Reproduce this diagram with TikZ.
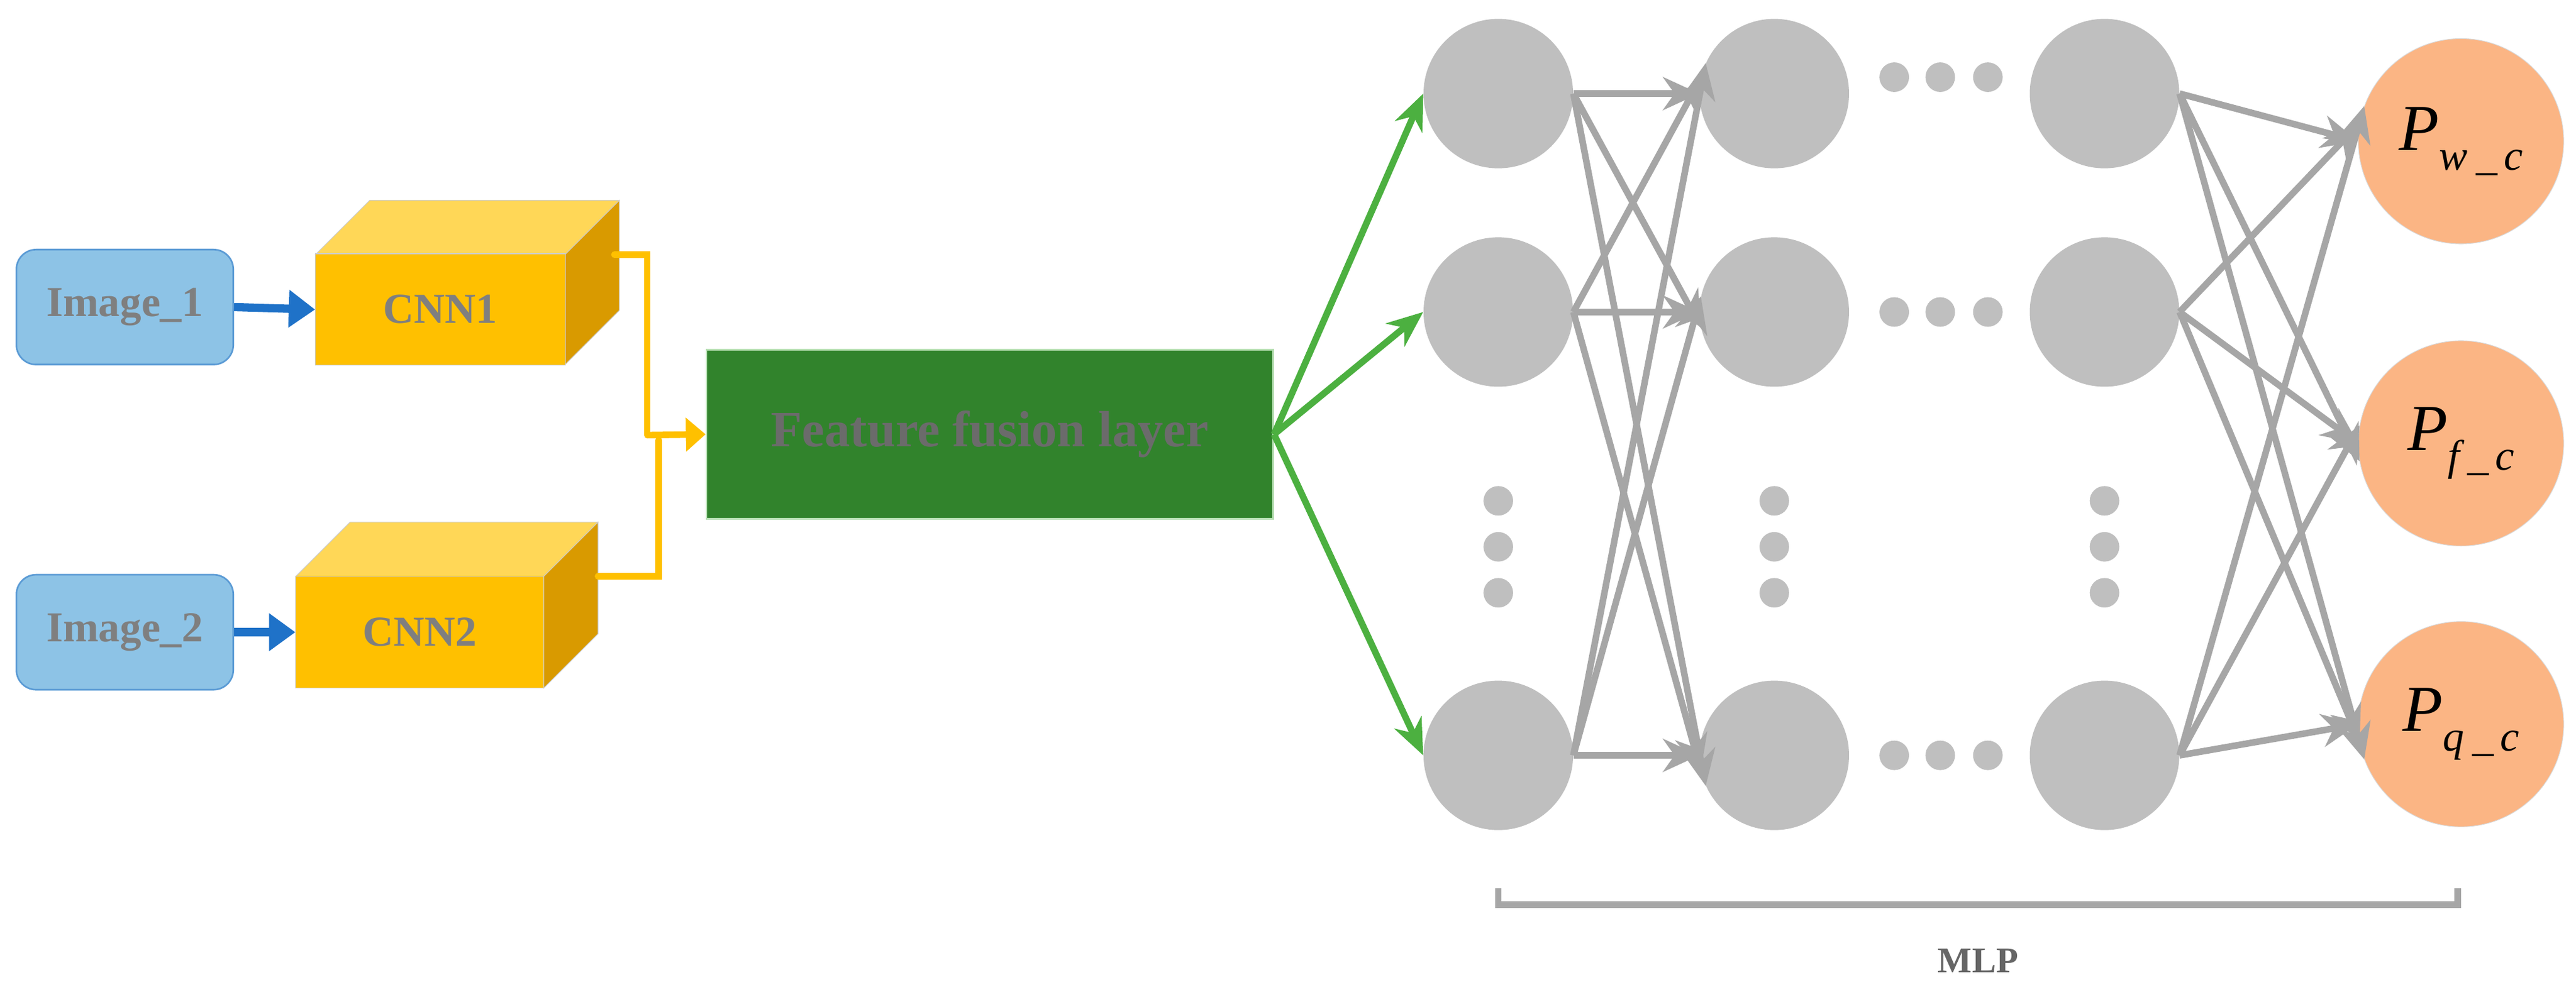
\documentclass[tikz,border=0pt]{standalone}
\usepackage{fontspec}
\setmainfont{Liberation Serif}
\usetikzlibrary{arrows.meta}
\definecolor{txt}{HTML}{7F7F7F}
\definecolor{imgf}{HTML}{8DC3E6}
\definecolor{imgd}{HTML}{5B9BD5}
\definecolor{cnnf}{HTML}{FFC000}
\definecolor{cnnt}{HTML}{FFD757}
\definecolor{cnns}{HTML}{D99A00}
\definecolor{fus}{HTML}{31832C}
\definecolor{grn}{HTML}{4CB040}
\definecolor{nodeg}{HTML}{BFBFBF}
\definecolor{arrg}{HTML}{A6A6A6}
\definecolor{outc}{HTML}{FBB584}
\definecolor{blu}{HTML}{1F72C8}
\newcommand{\plab}[1]{{\fontsize{40}{40}\selectfont\itshape P}\raisebox{-12pt}{\fontsize{26}{26}\selectfont\itshape #1\hspace{5pt}\_\hspace{4pt}c}}
\begin{document}
\begin{tikzpicture}[x=1pt,y=-1pt,
 img/.style={draw=imgd,fill=imgf,rounded corners=12pt,minimum width=132pt,minimum height=70pt,line width=1pt,
   font=\fontsize{26}{26}\selectfont\bfseries,text=txt},
 cnn/.style={fill=cnnf,draw=black!20,minimum width=152pt,minimum height=68pt,font=\fontsize{26}{26}\selectfont\bfseries,text=txt},
 neur/.style={circle,fill=nodeg,minimum size=91pt,inner sep=0pt},
 outn/.style={circle,fill=outc,draw=black!15,minimum size=125pt,inner sep=0pt},
 dot/.style={circle,fill=nodeg,minimum size=18pt,inner sep=0pt},
 ga/.style={draw=arrg,line width=4pt,-{Stealth[length=22pt,width=20pt,inset=7pt]}},
 gra/.style={draw=grn,line width=4pt,-{Stealth[length=22pt,width=18pt,inset=7pt]}},
 ya/.style={draw=cnnf,line width=4pt,line cap=round},
 ba/.style={draw=blu,line width=5pt,-{Triangle[length=16pt,width=22pt]}}]
\useasboundingbox (0,0) rectangle (1568,604);
% images
\node[img] (i1) at (76,187) {Image\_1};
\node[img] (i2) at (76,385) {Image\_2};
% CNN boxes
\fill[cnnt,draw=black!20] (192,155) -- (225,122) -- (377,122) -- (344,155) -- cycle;
\fill[cnns,draw=black!20] (344,155) -- (377,122) -- (377,189) -- (344,222) -- cycle;
\node[cnn] (c1) at (268,188.5) {CNN1};
\fill[cnnt,draw=black!20] (180,351) -- (213,318) -- (364,318) -- (331,351) -- cycle;
\fill[cnns,draw=black!20] (331,351) -- (364,318) -- (364,386) -- (331,419) -- cycle;
\node[cnn,minimum width=151pt] (c2) at (255.5,385) {CNN2};
\draw[ba] (i1.east) -- (c1.west);
\draw[ba] (i2.east) -- (c2.west);
% fusion
\node[fill=fus,draw=grn!40,line width=1pt,minimum width=345pt,minimum height=103pt,
  font=\fontsize{31}{31}\selectfont\bfseries,text=black!58] (f) at (602.5,264.5) {Feature fusion layer};
\coordinate (y1) at (374,155);
\coordinate (y2) at (364,351);
\draw[ya] (y1) -- (394,155) -- (394,265);
\draw[ya] (y2) -- (401,351) -- (401,268);
\draw[cnnf,line width=4pt,-{Triangle[length=12pt,width=20pt]}] (394,265) -- (f.west);
% neurons
\foreach \c/\x in {a/912,b/1080,c/1281}{
  \node[neur] (\c1) at (\x,57) {};
  \node[neur] (\c2) at (\x,190) {};
  \node[neur] (\c3) at (\x,460) {};
  \foreach \k/\yy in {1/305,2/333,3/361} \node[dot] (\c v\k) at (\x,\yy) {};
}
\foreach \r/\yy in {1/47,2/190,3/460}
  \foreach \k/\xx in {1/1153,2/1181,3/1210} \node[dot] (h\r\k) at (\xx,\yy) {};
\node[outn] (o1) at (1498,86) {\plab{w}};
\node[outn] (o2) at (1498,270) {\plab{f}};
\node[outn] (o3) at (1498,441) {\plab{q}};
% green
\foreach \i in {1,2,3} \draw[gra] (f.east) -- (a\i.west);
% gray connections
\foreach \i in {1,2,3} \foreach \j in {1,2,3}
  \pgfmathtruncatemacro{\ang}{180+(\j-\i)*12}
  \draw[ga] (a\i.east) -- (b\j.\ang);
\foreach \i in {1,2,3} \foreach \j in {1,2,3}
  \pgfmathtruncatemacro{\ang}{180+(\j-\i)*10}
  \draw[ga] (c\i.east) -- (o\j.\ang);
% bracket
\coordinate (bl) at (912,541);
\coordinate (br) at (1496,541);
\draw[arrg,line width=4pt] (bl) -- (912,551) -- (1496,551) -- (br);
\node[font=\fontsize{22}{22}\selectfont\bfseries,text=black!60] (mlp) at (1204,585) {MLP};
\end{tikzpicture}
\end{document}
